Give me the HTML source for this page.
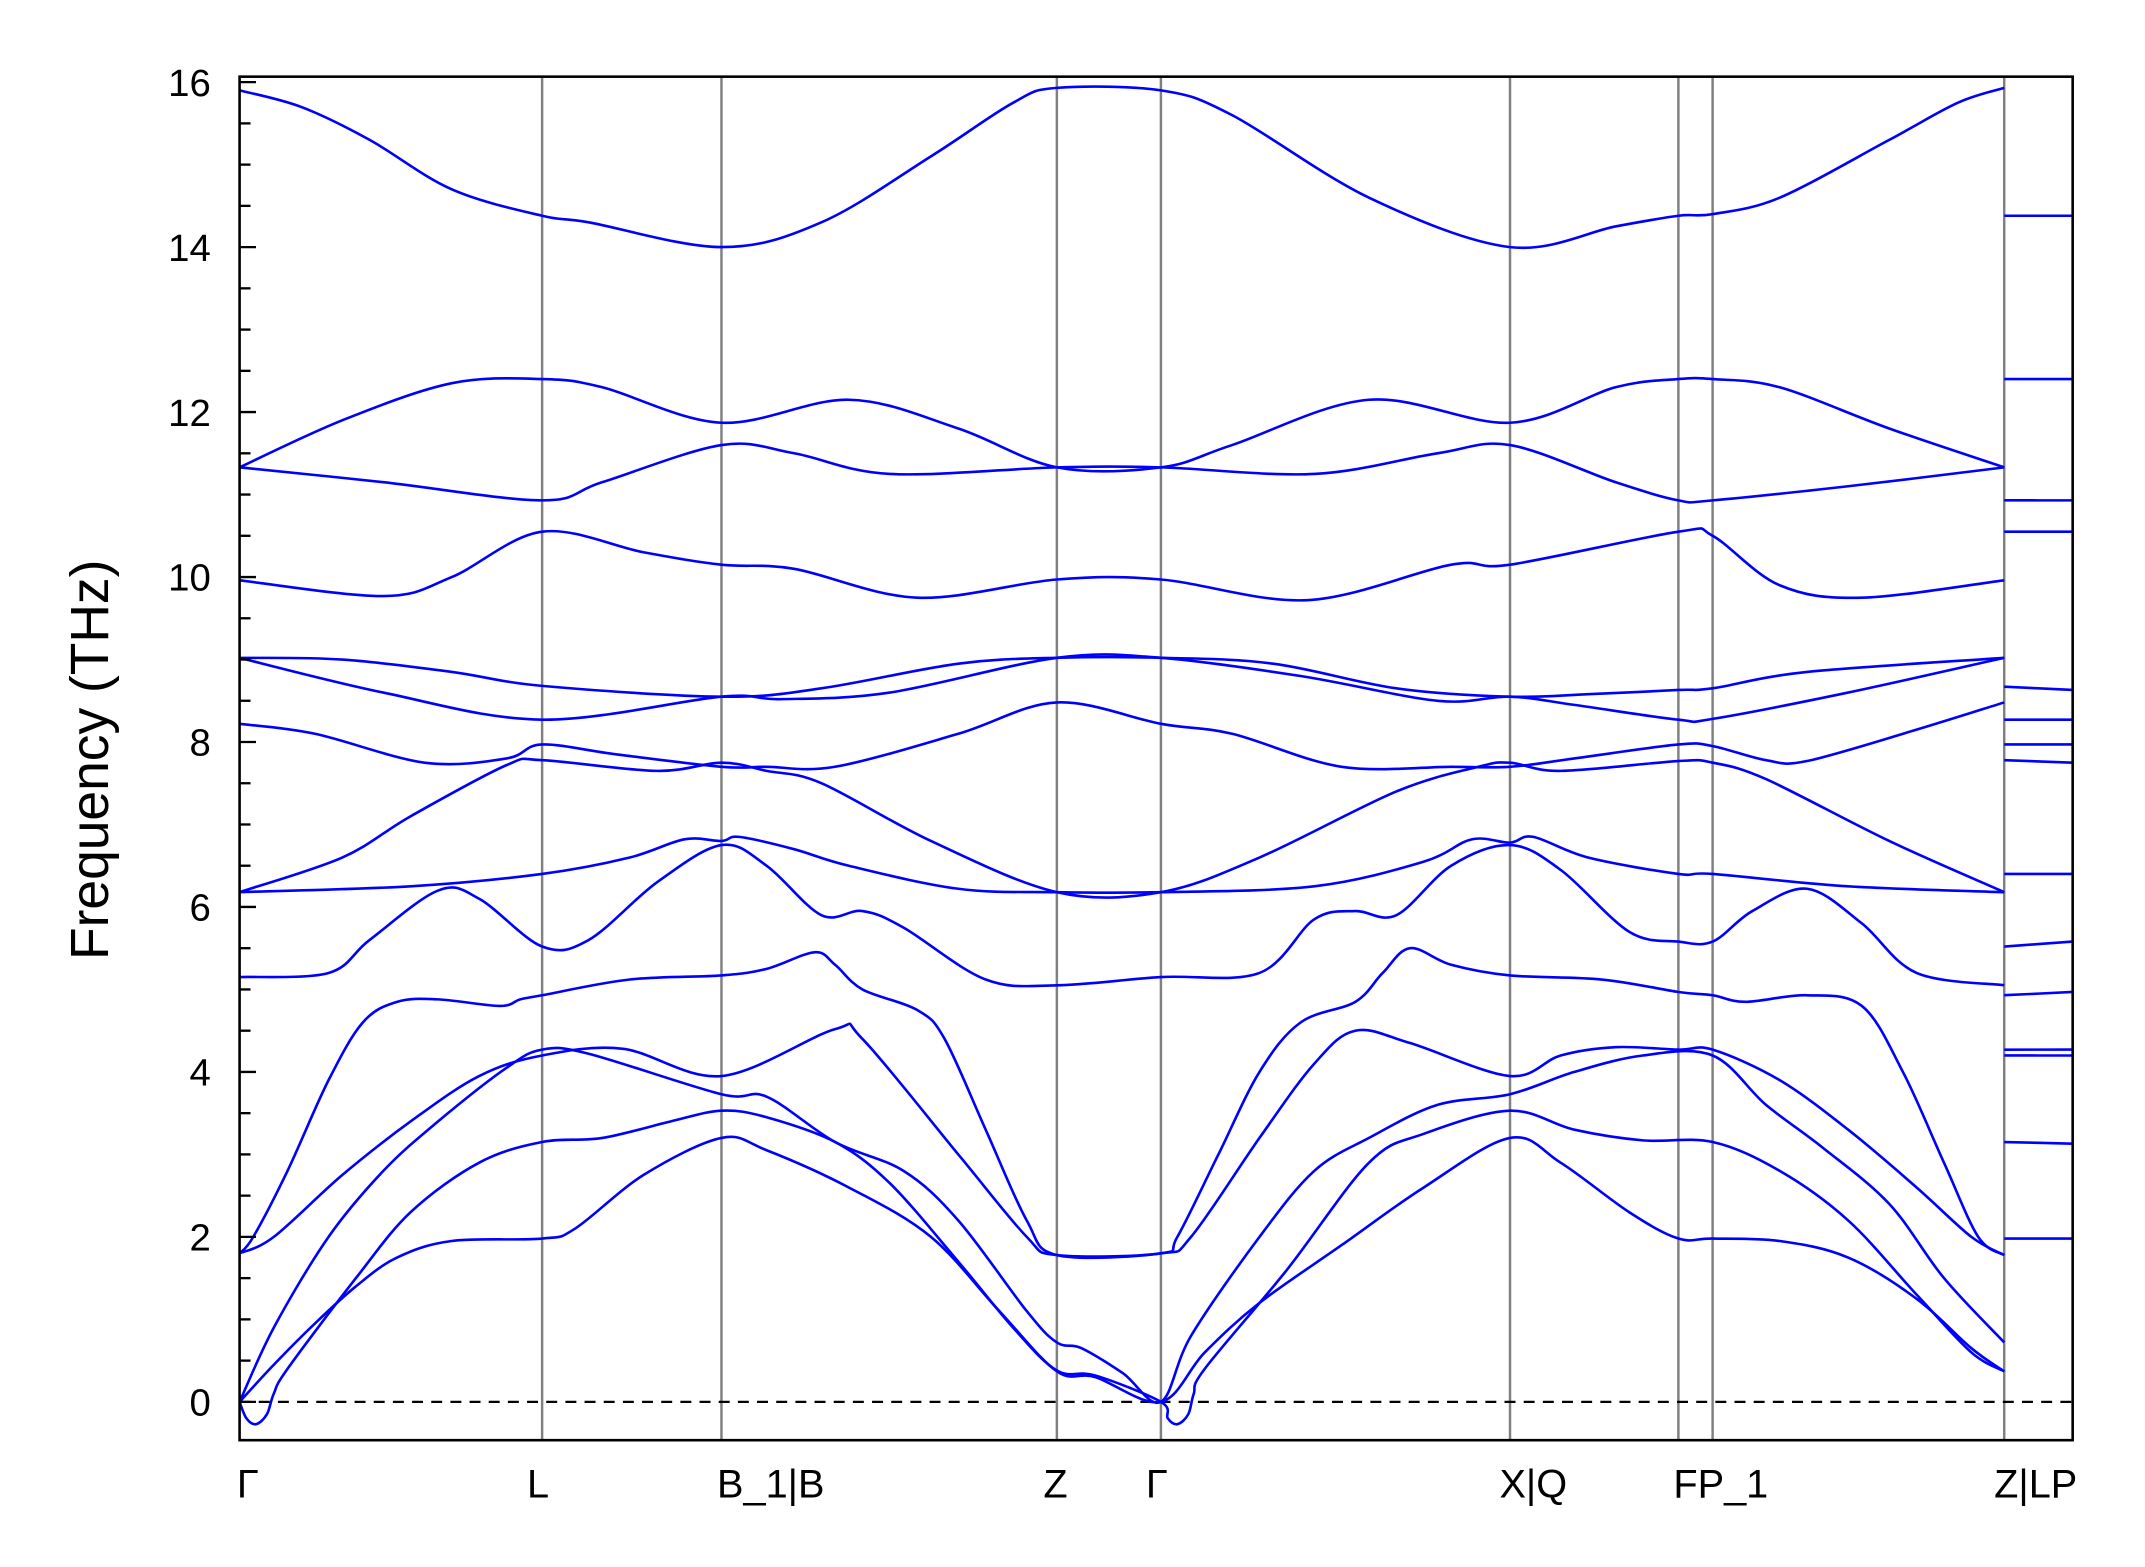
<!DOCTYPE html>
<html><head><meta charset="utf-8"><style>
html,body{margin:0;padding:0;background:#fff;}
svg{display:block}
text{font-family:"Liberation Sans","DejaVu Sans",sans-serif;fill:#000}
</style></head><body>
<svg id="s" width="2145" height="1567" viewBox="0 0 2145 1567" xmlns="http://www.w3.org/2000/svg">
<g id="g" transform="scale(1.369)">
<g stroke="#808080" stroke-width="1.8">
<line x1="396" y1="56" x2="396" y2="1052"/><line x1="527" y1="56" x2="527" y2="1052"/>
<line x1="772" y1="56" x2="772" y2="1052"/><line x1="848" y1="56" x2="848" y2="1052"/>
<line x1="1103" y1="56" x2="1103" y2="1052"/><line x1="1226" y1="56" x2="1226" y2="1052"/>
<line x1="1251" y1="56" x2="1251" y2="1052"/><line x1="1464" y1="56" x2="1464" y2="1052"/>
</g>
<line x1="175" y1="1024" x2="1514" y2="1024" stroke="#000" stroke-width="1.7" stroke-dasharray="8,6"/>
<g id="bands" fill="none" stroke="#0000ff" stroke-width="1.9"></g>
<g id="ticks" stroke="#000" stroke-width="1.7"></g>
<rect x="175" y="56" width="1339" height="996" fill="none" stroke="#000" stroke-width="1.9"/>
<g font-size="28" text-anchor="end" id="ylab"></g>
<g font-size="29" text-anchor="middle">
<text x="181" y="1094">Γ</text><text x="393" y="1094">L</text><text x="563" y="1094">B_1|B</text>
<text x="771" y="1094">Z</text><text x="845" y="1094">Γ</text><text x="1120" y="1094">X|Q</text>
<text x="1257" y="1094">FP_1</text><text x="1487" y="1094">Z|LP</text>
</g>
<text transform="translate(79,555) rotate(-90)" font-size="39" text-anchor="middle">Frequency (THz)</text>
</g>
</svg>
<script>
var Y=function(f){return 1024-60.25*f;};
var ns="http://www.w3.org/2000/svg";
var tk=document.getElementById('ticks'),yl=document.getElementById('ylab');
for(var i=0;i<=32;i++){var f=i/2;var y=Y(f);var l=document.createElementNS(ns,'line');
l.setAttribute('x1',175);l.setAttribute('x2',175+(i%4==0?12:8));l.setAttribute('y1',y);l.setAttribute('y2',y);tk.appendChild(l);
if(i%4==0){var t=document.createElementNS(ns,'text');t.setAttribute('x',154);t.setAttribute('y',y+10);t.textContent=String(f);yl.appendChild(t);}}
function path(p){var pts=p.map(function(q){return [q[0],Y(q[1])];});
var d='M'+pts[0][0]+','+pts[0][1];
for(var i=0;i<pts.length-1;i++){var p0=pts[i-1]||pts[i],p1=pts[i],p2=pts[i+1],p3=pts[i+2]||p2;
var c1=[p1[0]+(p2[0]-p0[0])/6,p1[1]+(p2[1]-p0[1])/6],c2=[p2[0]-(p3[0]-p1[0])/6,p2[1]-(p3[1]-p1[1])/6];
d+='C'+c1[0].toFixed(1)+','+c1[1].toFixed(1)+' '+c2[0].toFixed(1)+','+c2[1].toFixed(1)+' '+p2[0].toFixed(1)+','+p2[1].toFixed(1);}
return d;}
var B=[
[[175,15.9],[220,15.7],[270,15.3],[330,14.7],[396,14.38],[430,14.3],[527,14.0],[600,14.3],[680,15.1],[740,15.75],[772,15.93],[848,15.9],[900,15.6],[1000,14.6],[1103,14.0],[1180,14.25],[1226,14.38],[1251,14.4],[1300,14.6],[1380,15.3],[1430,15.75],[1464,15.93]],
[[175,11.33],[250,11.9],[330,12.35],[396,12.4],[440,12.3],[527,11.87],[620,12.15],[700,11.8],[772,11.33],[848,11.33],[900,11.6],[1000,12.15],[1103,11.87],[1180,12.3],[1226,12.4],[1251,12.4],[1300,12.3],[1380,11.8],[1464,11.33]],
[[175,11.33],[280,11.15],[396,10.93],[440,11.15],[527,11.6],[580,11.5],[650,11.25],[772,11.33],[848,11.33],[960,11.25],[1050,11.5],[1103,11.6],[1180,11.15],[1226,10.93],[1251,10.93],[1350,11.1],[1464,11.33]],
[[175,9.96],[280,9.77],[330,10.0],[396,10.55],[470,10.3],[527,10.15],[580,10.1],[670,9.75],[772,9.97],[848,9.97],[955,9.72],[1060,10.15],[1103,10.15],[1226,10.55],[1251,10.5],[1300,9.9],[1360,9.75],[1464,9.96]],
[[175,9.02],[250,9.0],[330,8.85],[396,8.68],[527,8.55],[600,8.65],[700,8.95],[772,9.02],[848,9.02],[930,8.95],[1020,8.65],[1103,8.55],[1160,8.58],[1226,8.63],[1251,8.65],[1320,8.85],[1464,9.02]],
[[175,9.02],[280,8.6],[396,8.27],[527,8.55],[570,8.52],[650,8.6],[772,9.02],[848,9.02],[950,8.8],[1050,8.5],[1103,8.55],[1150,8.45],[1226,8.27],[1251,8.28],[1350,8.6],[1464,9.02]],
[[175,8.22],[230,8.1],[310,7.75],[370,7.8],[396,7.97],[450,7.85],[527,7.7],[560,7.7],[610,7.7],[700,8.1],[772,8.48],[848,8.22],[900,8.1],[980,7.7],[1060,7.7],[1103,7.7],[1150,7.8],[1226,7.97],[1251,7.95],[1290,7.78],[1320,7.77],[1400,8.15],[1464,8.48]],
[[175,6.18],[250,6.6],[300,7.1],[370,7.72],[396,7.78],[480,7.65],[527,7.75],[560,7.65],[600,7.5],[680,6.8],[772,6.18],[848,6.18],[920,6.6],[1020,7.4],[1080,7.7],[1103,7.75],[1140,7.65],[1226,7.77],[1251,7.75],[1290,7.55],[1380,6.8],[1464,6.18]],
[[175,6.18],[300,6.25],[396,6.4],[460,6.6],[500,6.82],[527,6.8],[540,6.85],[580,6.7],[620,6.5],[700,6.22],[772,6.18],[848,6.18],[960,6.25],[1040,6.55],[1075,6.82],[1103,6.78],[1120,6.85],[1160,6.6],[1226,6.4],[1251,6.4],[1350,6.25],[1464,6.18]],
[[175,5.15],[240,5.2],[270,5.6],[320,6.2],[350,6.1],[396,5.52],[430,5.6],[480,6.3],[527,6.75],[560,6.5],[600,5.9],[630,5.95],[660,5.75],[720,5.12],[772,5.05],[848,5.15],[920,5.2],[960,5.85],[990,5.95],[1020,5.9],[1060,6.5],[1103,6.75],[1140,6.45],[1190,5.7],[1226,5.58],[1251,5.58],[1280,5.95],[1320,6.22],[1360,5.8],[1400,5.2],[1464,5.05]],
[[175,1.8],[185,2.0],[210,2.8],[240,3.9],[265,4.6],[290,4.85],[320,4.88],[365,4.8],[380,4.88],[396,4.93],[460,5.12],[527,5.17],[560,5.25],[595,5.45],[610,5.3],[630,5.0],[670,4.75],[690,4.4],[720,3.3],[750,2.2],[772,1.78],[848,1.8],[860,2.0],[890,3.0],[920,4.0],[950,4.6],[990,4.85],[1010,5.2],[1030,5.5],[1060,5.3],[1103,5.17],[1170,5.12],[1226,4.97],[1251,4.93],[1275,4.85],[1320,4.93],[1360,4.8],[1390,4.0],[1420,2.9],[1445,2.0],[1464,1.78]],
[[175,1.8],[200,2.0],[250,2.75],[300,3.4],[350,3.95],[396,4.2],[455,4.28],[527,3.95],[610,4.52],[630,4.4],[700,3.0],[750,2.0],[772,1.78],[848,1.8],[870,2.0],[920,3.2],[960,4.1],[990,4.5],[1030,4.35],[1103,3.95],[1140,4.2],[1180,4.3],[1226,4.27],[1251,4.27],[1300,3.9],[1350,3.3],[1400,2.6],[1440,2.0],[1464,1.78]],
[[175,0],[200,0.9],[240,2.0],[280,2.8],[320,3.4],[370,4.05],[396,4.27],[430,4.22],[527,3.73],[560,3.7],[610,3.15],[660,2.8],[700,2.2],[750,1.1],[772,0.72],[790,0.65],[820,0.35],[848,0],[870,0.8],[920,2.0],[960,2.8],[1000,3.2],[1050,3.6],[1103,3.73],[1150,4.0],[1200,4.2],[1251,4.2],[1290,3.6],[1330,3.1],[1380,2.4],[1420,1.5],[1464,0.72]],
[[175,0],[180,-0.2],[187,-0.27],[195,-0.15],[200,0.1],[210,0.4],[260,1.5],[300,2.3],[350,2.9],[396,3.15],[440,3.2],[490,3.4],[527,3.53],[560,3.45],[610,3.15],[650,2.65],[700,1.7],[740,0.9],[772,0.38],[800,0.32],[848,0],[853,-0.2],[860,-0.27],[868,-0.15],[872,0.1],[880,0.4],[940,1.6],[1000,2.9],[1040,3.25],[1103,3.53],[1150,3.3],[1200,3.17],[1251,3.15],[1300,2.8],[1350,2.2],[1400,1.3],[1440,0.6],[1464,0.37]],
[[175,0],[200,0.45],[230,0.95],[260,1.4],[290,1.75],[330,1.95],[396,1.98],[420,2.1],[470,2.75],[527,3.2],[560,3.05],[620,2.6],[680,2.0],[730,1.1],[772,0.37],[800,0.3],[848,0],[880,0.6],[920,1.2],[980,1.9],[1040,2.6],[1103,3.2],[1140,2.9],[1190,2.3],[1226,1.98],[1251,1.98],[1300,1.95],[1350,1.75],[1400,1.25],[1440,0.65],[1464,0.37]]
];
var LP=[[14.38,14.38],[12.4,12.4],[10.93,10.93],[10.55,10.55],[8.67,8.63],[8.27,8.27],[7.97,7.97],[7.78,7.75],[6.4,6.4],[5.52,5.58],[4.93,4.97],[4.27,4.27],[4.2,4.2],[3.15,3.13],[1.98,1.98]];
LP.forEach(function(v){B.push([[1464,v[0]],[1514,v[1]]]);});
var g=document.getElementById('bands');
B.forEach(function(b){var p=document.createElementNS(ns,'path');p.setAttribute('d',path(b));g.appendChild(p);});
</script>
</body></html>
